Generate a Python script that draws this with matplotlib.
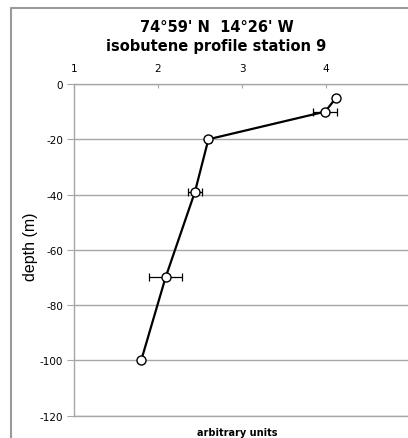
import matplotlib
matplotlib.use("Agg")
import matplotlib.pyplot as plt
from matplotlib.lines import Line2D

plt.rcParams["axes.unicode_minus"] = False

# isobutene profile, station 9
depth = [-5, -10, -20, -39, -70, -100]
isobutene = [4.12, 3.99, 2.60, 2.44, 2.09, 1.80]
isobutene_err = [0.0, 0.14, 0.03, 0.08, 0.20, 0.0]

x_ticks = [1, 2, 3, 4]
y_ticks = [0, -20, -40, -60, -80, -100, -120]

grey = "#a6a6a6"

fig = plt.figure(figsize=(4.08, 4.39), dpi=100)
ax = fig.add_axes([74 / 408, 1 - 416.7 / 439, 336 / 408, (416.7 - 85) / 439])

ax.errorbar(isobutene, depth, xerr=isobutene_err, fmt="none", ecolor="black",
            elinewidth=0.9, capsize=3, capthick=0.9, zorder=3)
ax.plot(isobutene, depth, color="black", lw=1.6, marker="o", ms=6.5,
        mfc="white", mec="black", mew=1.0, zorder=4)

ax.set_xlim(1, 5)
ax.set_ylim(-120, 0)
ax.set_xticks(x_ticks)
ax.set_yticks(y_ticks)
ax.xaxis.tick_top()
ax.tick_params(axis="x", direction="in", length=3, color=grey, labelsize=7.5, pad=8)
ax.tick_params(axis="y", direction="out", length=5, color=grey, labelsize=7.5, pad=3)
ax.yaxis.grid(True, color=grey, lw=1.0)
ax.set_axisbelow(True)
for side in ["left", "top", "bottom"]:
    ax.spines[side].set_color(grey)
    ax.spines[side].set_linewidth(1.0)
ax.spines["right"].set_visible(False)

# titles and labels
fig.text(216.5 / 408, 1 - 28 / 439, "74°59' N  14°26' W", ha="center", va="center",
         fontsize=10.5, fontweight="bold")
fig.text(216.5 / 408, 1 - 47 / 439, "isobutene profile station 9", ha="center", va="center",
         fontsize=10.5, fontweight="bold")
fig.text(30 / 408, 1 - 247 / 439, "depth (m)", rotation=90, ha="center", va="center",
         fontsize=11.5, family=["Liberation Sans Narrow", "Liberation Sans"])
fig.text(237.5 / 408, 1 - 433 / 439, "arbitrary units", ha="center", va="center",
         fontsize=7, fontweight="bold")

# chart frame
fig.add_artist(Line2D([11 / 408, 11 / 408, 1.0], [0, 1 - 9 / 439, 1 - 9 / 439],
                      transform=fig.transFigure, color="#9a9a9a", lw=1.5))

fig.savefig("out.png", dpi=100)
